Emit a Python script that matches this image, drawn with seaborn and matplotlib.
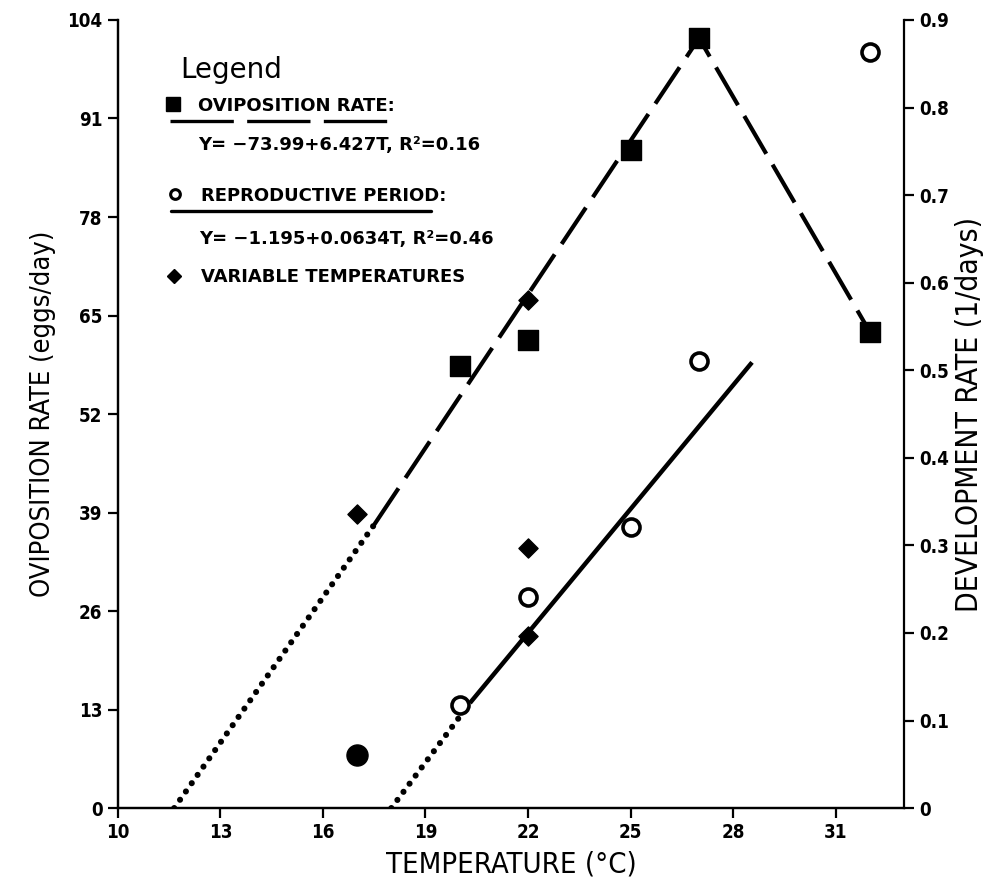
import matplotlib
matplotlib.use("Agg")
import matplotlib.pyplot as plt
import seaborn as sns

# Measured data: oviposition rate (eggs/day) vs constant temperature
temp_ovip = [20, 22, 25, 27, 32]
ovip_rate = [58.3, 61.8, 86.8, 101.6, 62.8]

# Development rate (1/days) for the reproductive period
temp_dev = [20, 22, 25, 27, 32]
dev_rate = [0.118, 0.241, 0.321, 0.510, 0.863]
temp_dev_filled = [17]
dev_rate_filled = [0.061]

# Variable-temperature treatments
temp_var_ovip = [17, 22]
var_ovip_rate = [38.8, 67.0]
temp_var_dev = [22, 22]
var_dev_rate = [0.297, 0.197]

# Fitted trend lines (extrapolated part dotted)
ovip_extrap_t = [11.65, 17.5]
ovip_extrap_y = [0.0, 37.4]
ovip_fit_t = [17.5, 27, 32]
ovip_fit_y = [37.4, 101.6, 62.8]
dev_extrap_t = [18.0, 20.3]
dev_extrap_y = [0.0, 0.12]
dev_fit_t = [20.3, 28.55]
dev_fit_y = [0.12, 0.509]

x_ticks = [10, 13, 16, 19, 22, 25, 28, 31]
y_left_ticks = [0, 13, 26, 39, 52, 65, 78, 91, 104]
y_right_ticks = [0, 0.1, 0.2, 0.3, 0.4, 0.5, 0.6, 0.7, 0.8, 0.9]
y_right_labels = ["0", "0.1", "0.2", "0.3", "0.4", "0.5", "0.6", "0.7", "0.8", "0.9"]

sns.set_style("ticks")
fam = ["DejaVu Sans"]
plt.rcParams.update({
    "font.family": fam,
    "axes.linewidth": 1.6,
    "text.color": "black",
    "axes.labelcolor": "black",
    "axes.edgecolor": "black",
    "xtick.color": "black",
    "ytick.color": "black",
})

fig = plt.figure(figsize=(9.98, 8.88), dpi=100)
ax = fig.add_axes([0.118, 0.09, 0.788, 0.8875])
ax2 = ax.twinx()

K = "black"

# Oviposition trend
sns.lineplot(x=ovip_extrap_t, y=ovip_extrap_y, ax=ax, color=K, linewidth=4.4)
ax.lines[-1].set_linestyle((0, (0.01, 1.65)))
ax.lines[-1].set_dash_capstyle("round")
sns.lineplot(x=ovip_fit_t, y=ovip_fit_y, ax=ax, color=K, linewidth=3.0)
ax.lines[-1].set_linestyle((0, (10.5, 3.0)))

# Development trend
sns.lineplot(x=dev_extrap_t, y=dev_extrap_y, ax=ax2, color=K, linewidth=4.4)
ax2.lines[-1].set_linestyle((0, (0.01, 1.65)))
ax2.lines[-1].set_dash_capstyle("round")
sns.lineplot(x=dev_fit_t, y=dev_fit_y, ax=ax2, color=K, linewidth=3.2)
ax2.lines[-1].set_solid_capstyle("butt")

# Points
sns.scatterplot(x=temp_ovip, y=ovip_rate, ax=ax, marker="s", s=200,
                color=K, edgecolor=K, linewidth=1, zorder=5)
sns.scatterplot(x=temp_var_ovip, y=var_ovip_rate, ax=ax, marker="D", s=95,
                color=K, edgecolor=K, linewidth=1, zorder=5)
sns.scatterplot(x=temp_dev, y=dev_rate, ax=ax2, marker="o", s=150,
                color="white", edgecolor=K, linewidth=2.6, zorder=5)
sns.scatterplot(x=temp_dev_filled, y=dev_rate_filled, ax=ax2, marker="o", s=230,
                color=K, edgecolor=K, linewidth=1, zorder=5)
sns.scatterplot(x=temp_var_dev, y=var_dev_rate, ax=ax2, marker="D", s=95,
                color=K, edgecolor=K, linewidth=1, zorder=5)

# Axes
ax.set_xlim(10, 33)
ax.set_ylim(0, 104)
ax2.set_ylim(0, 0.9)
ax.set_xticks(x_ticks)
ax.set_yticks(y_left_ticks)
ax2.set_yticks(y_right_ticks)
ax2.set_yticklabels(y_right_labels)
for a in (ax, ax2):
    a.spines["top"].set_visible(False)
    a.tick_params(length=7, width=1.6, labelsize=13.5, pad=4)
    for lab in a.get_xticklabels() + a.get_yticklabels():
        lab.set_fontweight("bold")
        lab.set_fontstretch("condensed")
ax.spines["right"].set_visible(False)

cond = dict(family=fam, fontstretch="condensed")
ax.set_xlabel("TEMPERATURE (°C)", labelpad=6, fontsize=21, **cond)
ax.set_ylabel("OVIPOSITION RATE (eggs/day)", labelpad=8, fontsize=19.5, **cond)
ax2.set_ylabel("DEVELOPMENT RATE (1/days)", labelpad=4, fontsize=21.5, **cond)

# Legend block
def fx(px):
    return (px - 118) / 786.0

def fy(py):
    return (808 - py) / 788.0

tr = ax.transAxes
ax.text(fx(180), fy(70), "Legend", transform=tr, fontsize=20,
        family=fam, va="center", ha="left")
ent = dict(transform=tr, fontsize=13, fontweight="bold", va="center", ha="left")
ax.plot([fx(173)], [fy(104)], marker="s", ms=10, color=K, transform=tr, clip_on=False)
ax.text(fx(198), fy(106), "OVIPOSITION RATE:", **ent)
ax.plot([fx(170), fx(390)], [fy(121), fy(121)], color=K, lw=2.4,
        linestyle=(0, (19, 4)), transform=tr, clip_on=False)
ax.text(fx(198), fy(145), "Y= \u221273.99+6.427T, R\u00b2=0.16", **ent)
ax.plot([fx(175)], [fy(194)], marker="o", ms=7, mfc="white", mec=K, mew=2.2,
        transform=tr, clip_on=False)
ax.text(fx(201), fy(196), "REPRODUCTIVE PERIOD:", **ent)
ax.plot([fx(171), fx(431)], [fy(211), fy(211)], color=K, lw=2.4,
        transform=tr, clip_on=False)
ax.text(fx(199), fy(239), "Y= \u22121.195+0.0634T, R\u00b2=0.46", **ent)
ax.plot([fx(174)], [fy(276)], marker="D", ms=7, color=K, transform=tr, clip_on=False)
ax.text(fx(201), fy(277), "VARIABLE TEMPERATURES", **ent)

fig.savefig("out.png", dpi=100, facecolor="white")
